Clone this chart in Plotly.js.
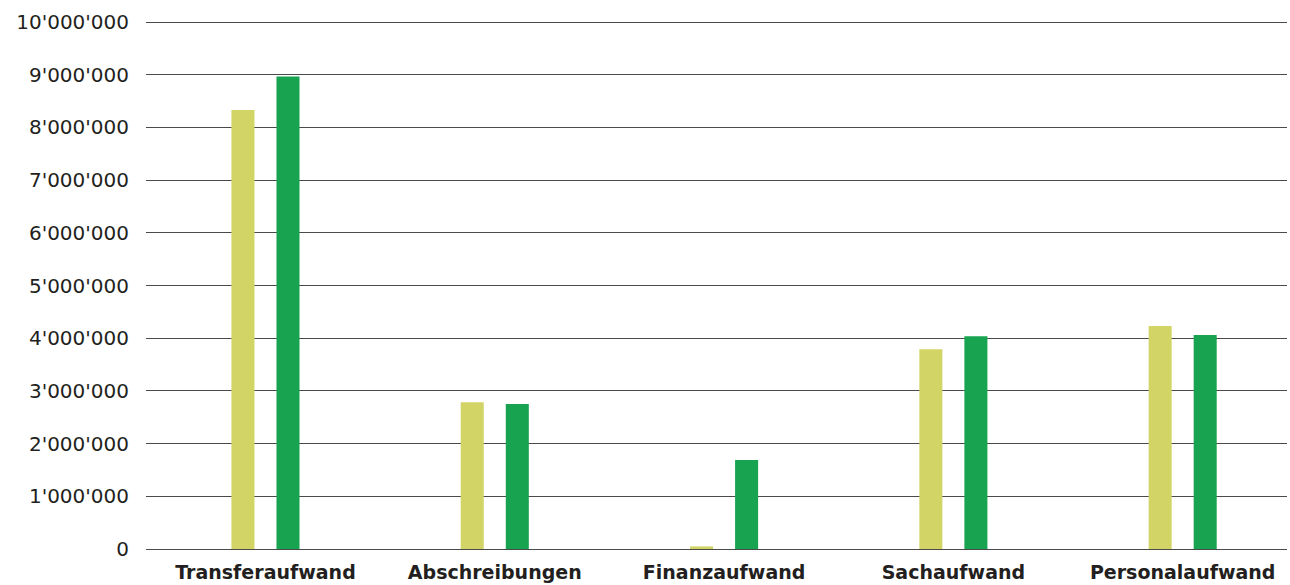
<!DOCTYPE html>
<html>
<head>
<meta charset="utf-8">
<script src="https://cdn.plot.ly/plotly-3.0.1.min.js"></script>
<style>html,body{margin:0;padding:0;background:#fff}#chart{width:1290px;height:585px}</style>
</head>
<body>
<div id="chart"></div>
<script>
const categories = ["Transferaufwand", "Abschreibungen", "Finanzaufwand", "Sachaufwand", "Personalaufwand"];
const seriesA = [8330000, 2785000, 50000, 3790000, 4230000];
const seriesB = [8970000, 2750000, 1690000, 4040000, 4060000];
const yTicks = [0, 1000000, 2000000, 3000000, 4000000, 5000000, 6000000, 7000000, 8000000, 9000000, 10000000];

const data = [
  {type: "bar", x: categories, y: seriesA, marker: {color: "#d2d466"}, name: "A", hoverinfo: "none"},
  {type: "bar", x: categories, y: seriesB, marker: {color: "#18a350"}, name: "B", hoverinfo: "none"}
];
const layout = {
  width: 1290, height: 585,
  margin: {l: 146, r: 3, t: 20, b: 36},
  paper_bgcolor: "#fff", plot_bgcolor: "#fff",
  showlegend: false,
  barmode: "group",
  bargap: 0.607,
  bargroupgap: 0.489,
  separators: ".'",
  font: {family: "'DejaVu Sans', sans-serif", color: "#231f20"},
  xaxis: {
    type: "category", range: [-0.521, 4.455],
    showgrid: false, showline: false, ticks: "",
    ticklabelstandoff: 10,
    tickfont: {size: 19, weight: "bold", color: "#231f20"},
    fixedrange: true
  },
  yaxis: {
    range: [0, 10040000], tickvals: yTicks, tickformat: ",d",
    showgrid: true, gridcolor: "#4a4a4a", gridwidth: 1,
    zeroline: true, zerolinecolor: "#4a4a4a", zerolinewidth: 1,
    showline: false, ticks: "", ticklabelstandoff: 16,
    tickfont: {size: 20, color: "#231f20"}
  }
};
Plotly.newPlot("chart", data, layout, {displayModeBar: false, staticPlot: true});
</script>
</body>
</html>
